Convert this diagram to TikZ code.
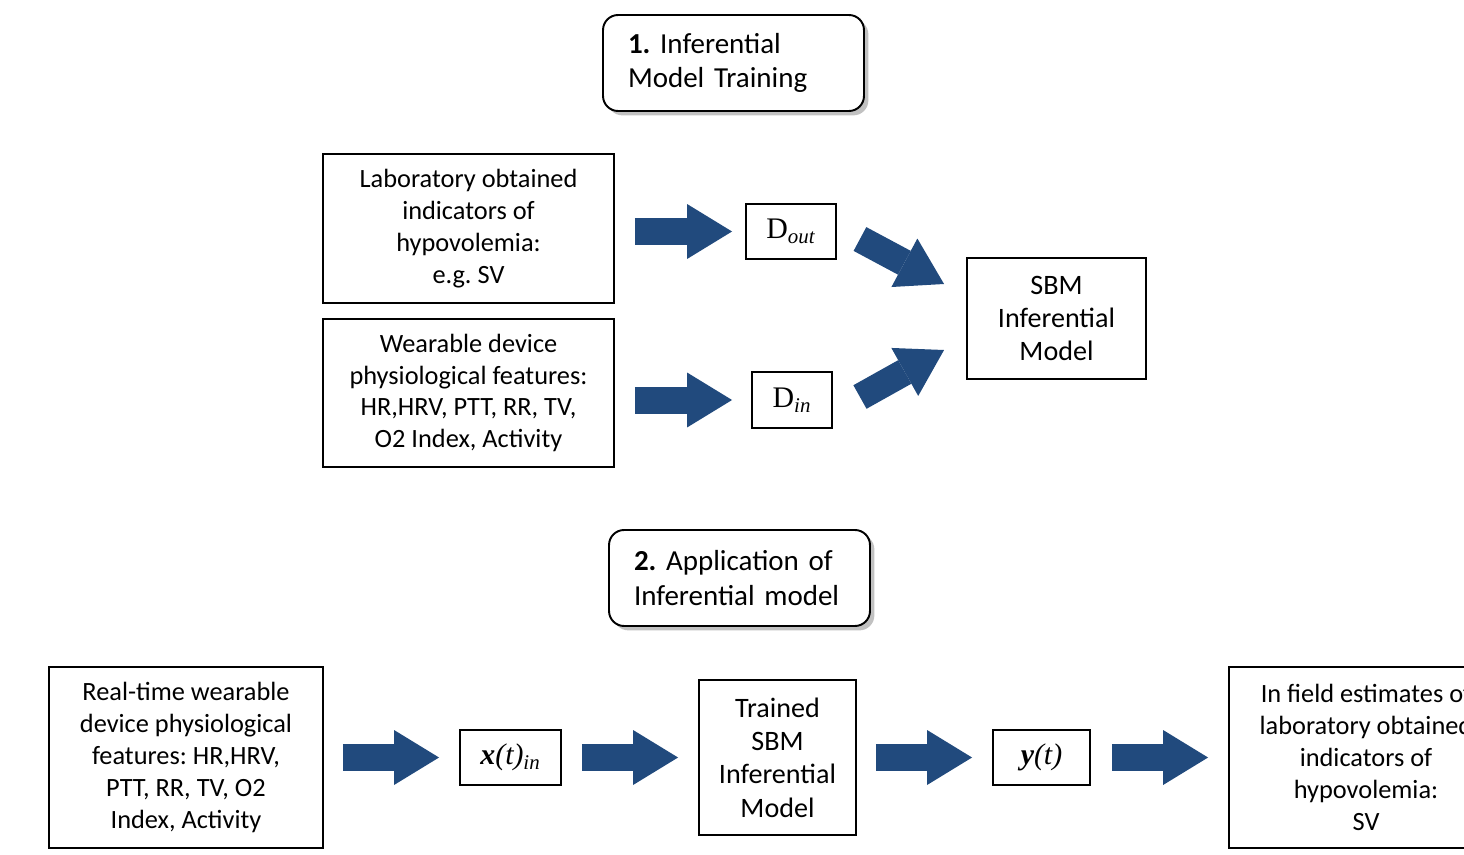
\documentclass[tikz,border=0pt]{standalone}
\usepackage{fontspec}
\setmainfont{Carlito}
\newfontfamily\tnr{Liberation Serif}
\usetikzlibrary{arrows.meta,calc,shadows}
\definecolor{arrowblue}{RGB}{33,74,125}
\frenchspacing
\tikzset{
  box/.style={draw,line width=1.1pt,align=center,inner sep=0pt,font=\fontsize{15}{18.1}\selectfont},
  bigbox/.style={box,font=\fontsize{16}{19}\selectfont},
  varbox/.style={draw,line width=1.1pt,inner sep=0pt,font=\tnr\fontsize{17}{20}\selectfont},
  titlebox/.style={draw,line width=1.1pt,rounded corners=0.3cm,fill=white,align=left,inner xsep=0pt,text width=4.22cm,minimum width=5.22cm,minimum height=1.92cm,font=\fontsize{16.5}{19.8}\selectfont,drop shadow={shadow xshift=2.5pt,shadow yshift=-2.5pt,opacity=.35,fill=black!70}},
  fatarrow/.style={draw=arrowblue,line width=0.54cm,-{Triangle[length=0.9cm,width=1.1cm,line width'=0pt,fill=arrowblue]}}
}
\begin{document}
\begin{tikzpicture}[x=0.02cm,y=-0.02cm]
\clip (0,0) rectangle (1464,855);
% part 1: training
\node[titlebox] (title1) at (733.5,63) {\textbf{1.} Inferential\\Model Training};
\node[box,minimum width=5.82cm,minimum height=2.98cm] (lab) at (468.5,228.5) {Laboratory obtained\\indicators of\\hypovolemia:\\e.g. SV};
\node[box,minimum width=5.82cm,minimum height=2.96cm] (wear) at (468.5,393) {Wearable device\\physiological features:\\HR,HRV, PTT, RR, TV,\\O2 Index, Activity};
\node[varbox,minimum width=1.8cm,minimum height=1.1cm] (dout) at (791,231.5) {D\textsubscript{\itshape out}};
\node[varbox,minimum width=1.6cm,minimum height=1.12cm] (din) at (792,400) {D\textsubscript{\itshape in}};
\node[bigbox,minimum width=3.58cm,minimum height=2.42cm] (sbm) at (1056.5,318.5) {SBM\\Inferential\\Model};
\draw[fatarrow,shorten <=0.4cm,shorten >=0.26cm] (lab.east |- dout.west) -- (dout.west);
\draw[fatarrow,shorten <=0.4cm,shorten >=0.38cm] (wear.east |- din.west) -- (din.west);
\draw[fatarrow] ($(dout.east)+(23,7.5)$) -- ($(sbm.west)+(-22,-34.5)$);
\draw[fatarrow] ($(din.east)+(27,-3)$) -- ($(sbm.west)+(-22,31.5)$);
% part 2: application
\node[titlebox] (title2) at (739.5,578) {\textbf{2.} Application of\\Inferential model};
\node[box,minimum width=5.48cm,minimum height=3.62cm] (rt) at (186,757.5) {Real-time wearable\\device physiological\\features: HR,HRV,\\PTT, RR, TV, O2\\Index, Activity};
\node[varbox,minimum width=2.02cm,minimum height=1.1cm] (xin) at (510.5,757.5) {{\bfseries\itshape x}{\itshape(t)}\textsubscript{\itshape in}};
\node[bigbox,minimum width=3.14cm,minimum height=3.1cm] (trained) at (777.5,757.5) {Trained\\SBM\\Inferential\\Model};
\node[varbox,minimum width=1.94cm,minimum height=1.1cm] (yt) at (1041.5,757.5) {{\bfseries\itshape y}{\itshape(t)}};
\node[box,minimum width=5.48cm,minimum height=3.62cm] (estim) at (1366,757.5) {In field estimates of\\laboratory obtained\\indicators of\\hypovolemia:\\SV};
\draw[fatarrow,shorten <=0.38cm,shorten >=0.4cm] (rt) -- (xin);
\draw[fatarrow,shorten <=0.4cm,shorten >=0.4cm] (xin) -- (trained);
\draw[fatarrow,shorten <=0.38cm,shorten >=0.4cm] (trained) -- (yt);
\draw[fatarrow,shorten <=0.42cm,shorten >=0.4cm] (yt) -- (estim);
\end{tikzpicture}
\end{document}
